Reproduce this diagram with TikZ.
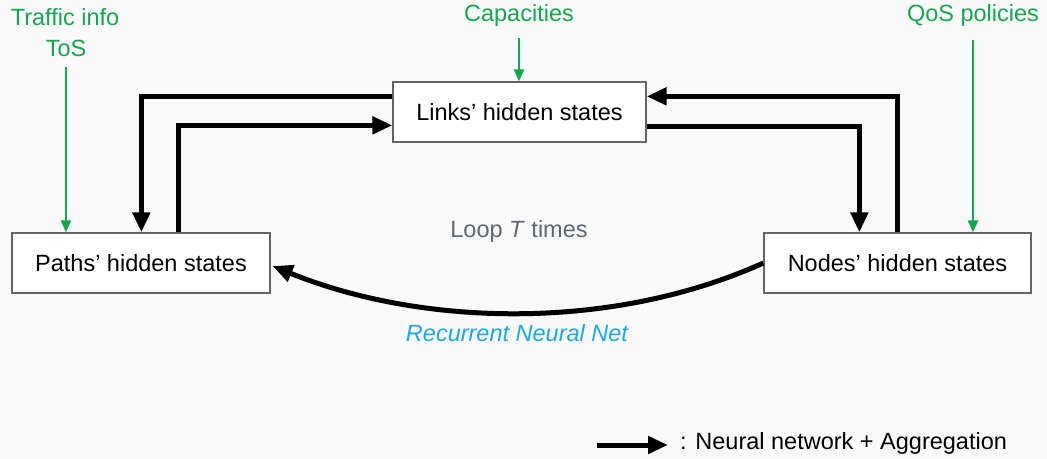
\documentclass[tikz,border=0pt]{standalone}
\usepackage{fontspec}
\setmainfont{Liberation Sans}
\usetikzlibrary{arrows.meta,calc}
\definecolor{bg}{RGB}{249,249,249}
\definecolor{grn}{RGB}{18,168,78}
\definecolor{loopgray}{RGB}{95,104,112}
\definecolor{rnnblue}{RGB}{24,170,232}
\definecolor{boxgray}{RGB}{100,100,100}
\tikzset{
  txt/.style={font=\fontsize{23.5}{28}\selectfont},
  box/.style={txt,draw=boxgray,line width=1.3pt,fill=white,inner sep=0pt,minimum height=60pt},
  blk/.style={line width=5pt,-{Triangle[length=20pt,width=17pt]}},
  grnarrow/.style={draw=grn,line width=2.5pt,-{Triangle[length=12pt,width=10pt]}},
  grntext/.style={txt,text=grn,align=center,inner sep=0pt},
}
\begin{document}
\begin{tikzpicture}[x=1pt,y=-1pt]
\fill[bg] (0,0) rectangle (1047,458);
\useasboundingbox (0,0) rectangle (1047,458);
\node[box,minimum width=258pt] (paths) at (141,263) {Paths’ hidden states};
\node[box,minimum width=253pt] (links) at (519.5,112) {Links’ hidden states};
\node[box,minimum width=267pt] (nodes) at (897.5,263) {Nodes’ hidden states};
\node[grntext] (traffic) at (65,17) {Traffic info};
\node[grntext] (tos) at (66,48) {ToS};
\node[grntext] (cap) at (519,15) {Capacities};
\node[grntext] (qos) at (973,15) {QoS policies};
\coordinate (tosstart) at (66,67);
\coordinate (capstart) at (519,38);
\coordinate (qosstart) at (973,40);
\draw[grnarrow] (tosstart) -- (tosstart |- paths.north);
\draw[grnarrow] (capstart) -- (capstart |- links.north);
\draw[grnarrow] (qosstart) -- (qosstart |- nodes.north);
\draw[blk] ($(links.north west)+(0,15)$) -| ($(paths.north west)+(130,0)$);
\draw[blk] ($(paths.north west)+(167,0)$) |- ($(links.north west)+(0,44)$);
\draw[blk] ($(links.north east)+(0,45)$) -| ($(nodes.north west)+(96,0)$);
\draw[blk] ($(nodes.north west)+(134,0)$) |- ($(links.north east)+(0,15)$);
\draw[blk] (nodes.west) .. controls (610,332) and (420,326) .. ($(paths.east)+(2,3)$);
\node[txt,text=loopgray] (loop) at (519,231) {Loop \textit{T} times};
\node[txt,text=rnnblue] (rnn) at (517,333) {\itshape Recurrent Neural Net};
\coordinate (lega) at (597,445);
\coordinate (legb) at (668,445);
\draw[blk] (lega) -- (legb);
\node[txt,anchor=west,inner sep=0pt] (legtext) at (680,443) {: Neural network + Aggregation};
\end{tikzpicture}
\end{document}
